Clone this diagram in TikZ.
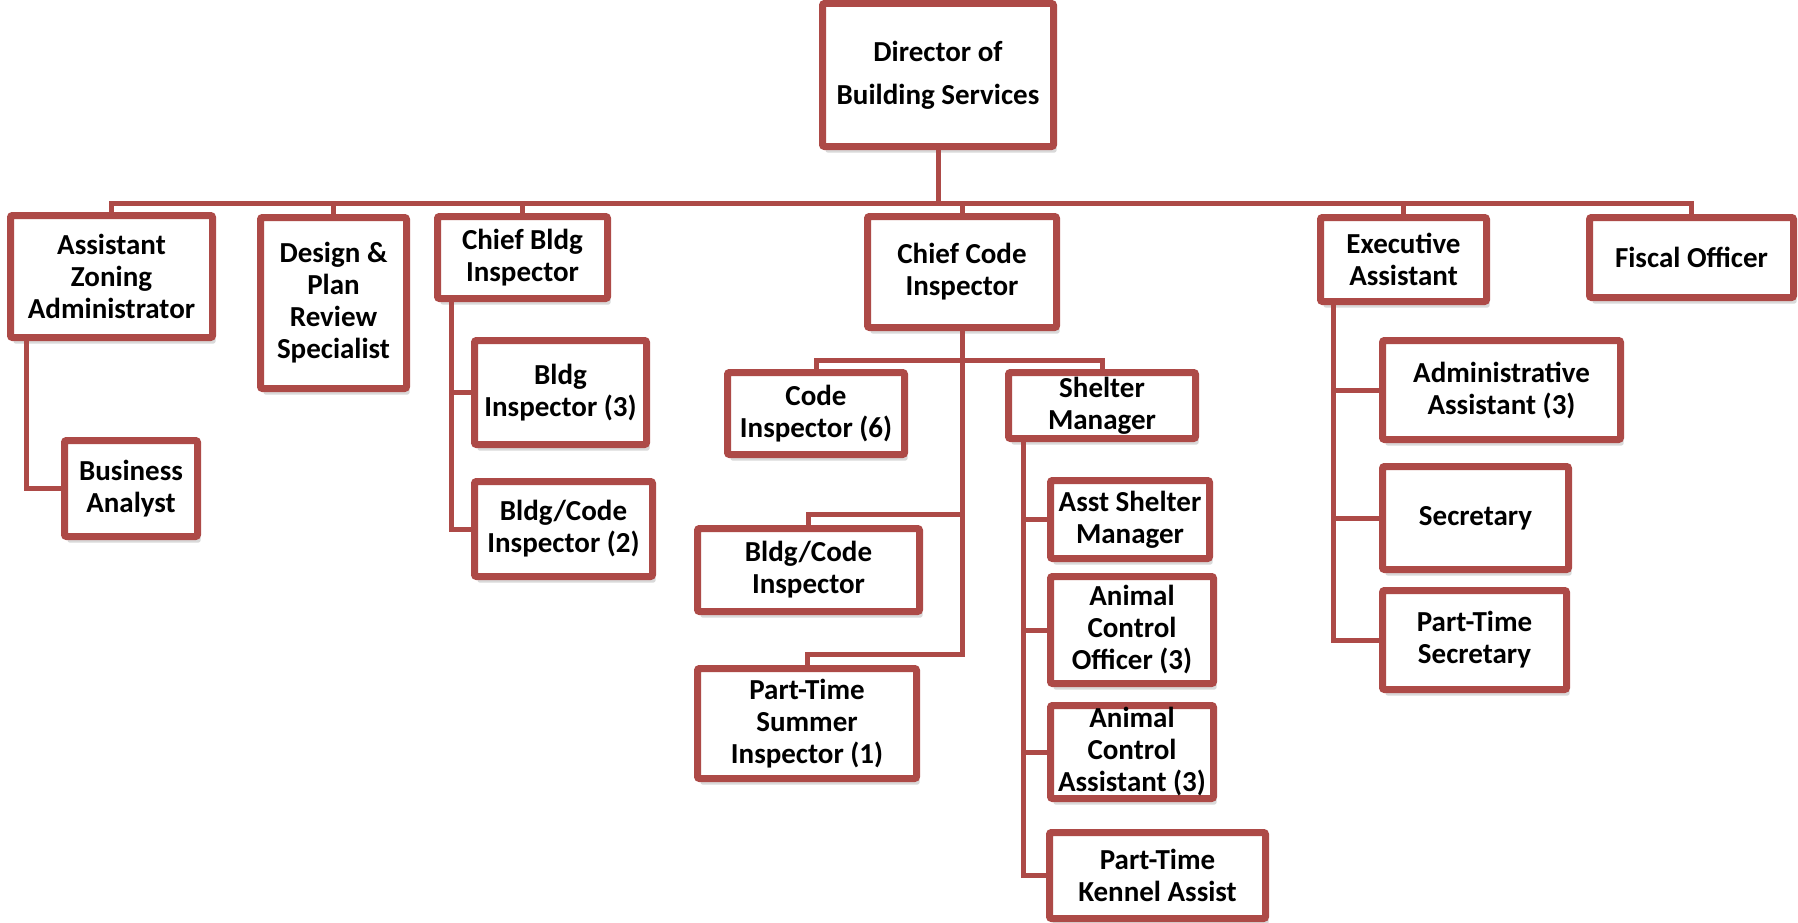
\documentclass[tikz,border=0pt]{standalone}
\usepackage{fontspec}
\setmainfont{Carlito}
\usetikzlibrary{positioning, shadows, calc}
\definecolor{boxred}{RGB}{173,74,71}

\begin{document}
\begin{tikzpicture}[x=1pt, y=-1pt,
    post/.style={rectangle, draw=boxred, line width=7pt, rounded corners=2pt, fill=white, align=center, inner sep=1pt,
        font=\bfseries\fontsize{29}{32}\selectfont,
        drop shadow={shadow xshift=3pt, shadow yshift=-6pt, opacity=.15, fill=black}},
    link/.style={draw=boxred, line width=5pt}
]
\useasboundingbox (0,0) rectangle (1798,923);

% Top level
\node[post, minimum width=231pt, minimum height=143pt] (director) at (938,75) {Director of\\[11pt]Building Services};
\node[post, minimum width=202pt, minimum height=122pt] (zoningAdmin) at (111.5,276.5) {Assistant\\Zoning\\Administrator};
\node[post, minimum width=146pt, minimum height=171pt] (planReview) at (333.5,303) {Design \&\\Plan\\Review\\Specialist};
\node[post, minimum width=170pt, minimum height=82pt] (chiefBldg) at (522.5,257.5) {Chief Bldg\\Inspector};
\node[post, minimum width=189pt, minimum height=111pt] (chiefCode) at (962,272) {Chief Code\\Inspector};
\node[post, minimum width=166pt, minimum height=84pt] (execAssist) at (1403.5,259.5) {Executive\\Assistant};
\node[post, minimum width=204pt, minimum height=80pt] (fiscal) at (1691.5,257.5) {Fiscal Officer};

% Staff
\node[post, minimum width=133pt, minimum height=96pt] (bizAnalyst) at (131,488.5) {Business\\Analyst};
\node[post, minimum width=172pt, minimum height=104pt] (bldgInsp) at (560.5,392.5) {Bldg\\Inspector (3)};
\node[post, minimum width=178pt, minimum height=95pt] (bldgCodeInsp2) at (563.5,529) {Bldg/Code\\Inspector (2)};
\node[post, minimum width=177pt, minimum height=82pt] (codeInsp) at (816,413.5) {Code\\Inspector (6)};
\node[post, minimum width=187pt, minimum height=66pt] (shelterMgr) at (1102,405.5) {Shelter\\Manager};
\node[post, minimum width=222pt, minimum height=83pt] (bldgCodeInsp) at (808.5,570) {Bldg/Code\\Inspector};
\node[post, minimum width=219pt, minimum height=110pt] (summerInsp) at (807,723.5) {Part-Time\\Summer\\Inspector (1)};
\node[post, minimum width=159pt, minimum height=78pt] (asstShelter) at (1130,519.5) {Asst Shelter\\Manager};
\node[post, minimum width=163pt, minimum height=107pt] (animalOfficer) at (1132,630) {Animal\\Control\\Officer (3)};
\node[post, minimum width=163pt, minimum height=93pt] (animalAssist) at (1132,752) {Animal\\Control\\Assistant (3)};
\node[post, minimum width=216pt, minimum height=86pt] (kennelAssist) at (1157.5,875.5) {Part-Time\\Kennel Assist};
\node[post, minimum width=238pt, minimum height=99pt] (adminAssist) at (1501.5,390) {Administrative\\Assistant (3)};
\node[post, minimum width=186pt, minimum height=103pt] (secretary) at (1475.5,518) {Secretary};
\node[post, minimum width=184pt, minimum height=99pt] (ptSecretary) at (1474.5,640) {Part-Time\\Secretary};

% Junctions
\coordinate (bus) at (938,203);
\coordinate (ccSplit) at (962,360);
\coordinate (ccMid) at (962,514);
\coordinate (ccEnd) at (962,654);

% Lines
\draw[link] (director.south) -- (bus);
\foreach \n in {zoningAdmin, planReview, chiefBldg, chiefCode, execAssist, fiscal}
    \draw[link] (bus) -| (\n.north);
\draw[link] ([xshift=19.5pt]zoningAdmin.south west) |- (bizAnalyst.west);
\foreach \n in {bldgInsp, bldgCodeInsp2}
    \draw[link] ([xshift=17.5pt]chiefBldg.south west) |- (\n.west);
\draw[link] (chiefCode.south) -- (ccEnd) -| (summerInsp.north);
\draw[link] (ccMid) -| (bldgCodeInsp.north);
\draw[link] (ccSplit) -| (codeInsp.north);
\draw[link] (ccSplit) -| (shelterMgr.north);
\foreach \n in {asstShelter, animalOfficer, animalAssist, kennelAssist}
    \draw[link] ([xshift=18.5pt]shelterMgr.south west) |- (\n.west);
\foreach \n in {adminAssist, secretary, ptSecretary}
    \draw[link] ([xshift=16.5pt]execAssist.south west) |- (\n.west);

\end{tikzpicture}
\end{document}
